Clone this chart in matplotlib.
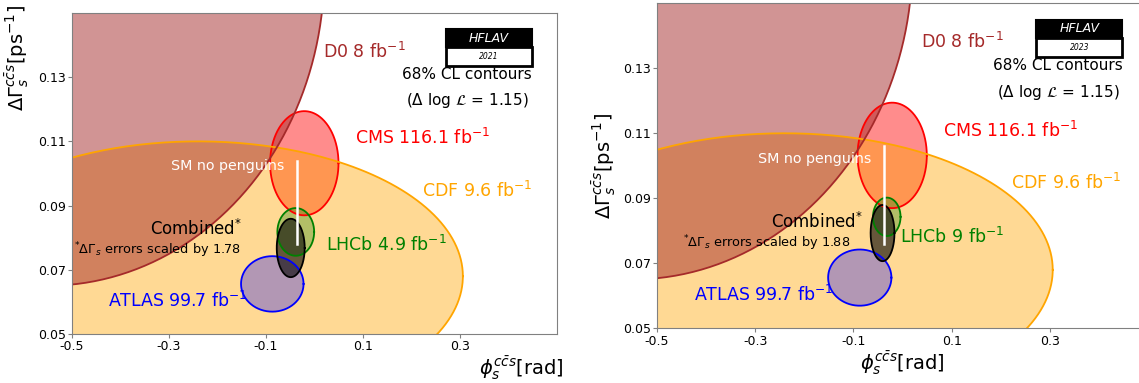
import numpy as np
import matplotlib
matplotlib.use("Agg")
import matplotlib.pyplot as plt
from matplotlib.colors import to_rgba
from matplotlib.patches import Rectangle

# 68% CL contours for (phi_s, Delta Gamma_s), Delta log L = 1.15
K_CL = np.sqrt(2.3)

# drawing order: CMS first so the CDF and D0 fills tint it
EXPERIMENTS = ["CMS", "CDF", "D0", "ATLAS", "LHCb", "Combined"]
COLORS = ["red", "orange", "brown", "blue", "green", "black"]
ALPHAS = [0.45, 0.42, 0.5, 0.3, 0.3, 0.6]

# 2021 averages
PHI_2021 = [-0.021, -0.24, -0.55, -0.087, -0.0386, -0.049]
PHI_ERR_2021 = [0.0465, 0.36, 0.376, 0.0425, 0.025, 0.019]
DG_2021 = [0.1032, 0.068, 0.163, 0.0656, 0.0818, 0.0768]
DG_ERR_2021 = [0.0107, 0.0277, 0.0646, 0.0057, 0.0049, 0.006]
LABELS_2021 = [r"CMS 116.1 fb$^{-1}$", r"CDF 9.6 fb$^{-1}$", r"D0 8 fb$^{-1}$",
               r"ATLAS 99.7 fb$^{-1}$", r"LHCb 4.9 fb$^{-1}$"]
LABEL_POS_2021 = [(0.083, 0.111), (0.222, 0.0947), (0.018, 0.1378),
                  (-0.425, 0.0604), (0.023, 0.0778)]

# 2023 averages
PHI_2023 = [-0.021, -0.24, -0.55, -0.087, -0.032, -0.0406]
PHI_ERR_2023 = [0.0465, 0.36, 0.376, 0.0425, 0.0185, 0.016]
DG_2023 = [0.1032, 0.068, 0.163, 0.0656, 0.0843, 0.0793]
DG_ERR_2023 = [0.0107, 0.0277, 0.0646, 0.0057, 0.0039, 0.0057]
LABELS_2023 = [r"CMS 116.1 fb$^{-1}$", r"CDF 9.6 fb$^{-1}$", r"D0 8 fb$^{-1}$",
               r"ATLAS 99.7 fb$^{-1}$", r"LHCb 9 fb$^{-1}$"]
LABEL_POS_2023 = [(0.083, 0.1108), (0.222, 0.0948), (0.037, 0.1382),
                  (-0.425, 0.0602), (-0.006, 0.078)]

# Standard Model prediction without penguins
SM_PHI = -0.0368
SM_DG_2021 = (0.078, 0.104)
SM_DG_2023 = (0.076, 0.106)

SCALE_2021 = 1.78
SCALE_2023 = 1.88

XTICKS = [-0.5, -0.3, -0.1, 0.1, 0.3]
YTICKS = [0.05, 0.07, 0.09, 0.11, 0.13]


def ellipse_points(cx, cy, sx, sy, n=400):
    t = np.linspace(0, 2 * np.pi, n)
    return cx + K_CL * sx * np.cos(t), cy + K_CL * sy * np.sin(t)


def hflav_logo(ax, year, x0, x1, ytop, ymid, ybot):
    ax.add_patch(Rectangle((x0, ymid), x1 - x0, ytop - ymid, transform=ax.transAxes,
                           facecolor="black", edgecolor="black", lw=1.5, zorder=20))
    ax.add_patch(Rectangle((x0, ybot), x1 - x0, ymid - ybot, transform=ax.transAxes,
                           facecolor="white", edgecolor="black", lw=2, zorder=20))
    ax.text((x0 + x1) / 2, (ytop + ymid) / 2, "HFLAV", transform=ax.transAxes,
            color="white", style="italic", fontsize=9, ha="center", va="center", zorder=21)
    ax.text((x0 + x1) / 2, (ymid + ybot) / 2, year, transform=ax.transAxes,
            color="black", style="italic", fontsize=5.5, ha="center", va="center", zorder=21)


def draw_panel(ax, phi, phi_err, dg, dg_err, labels, label_pos, sm_dg, scale,
               year, combined_pos, note_pos):
    # filled regions first, contour lines on top of all fills
    for i, name in enumerate(EXPERIMENTS):
        x, y = ellipse_points(phi[i], dg[i], phi_err[i], dg_err[i])
        ax.fill(x, y, facecolor=to_rgba(COLORS[i], ALPHAS[i]),
                edgecolor="none", zorder=2 + i)
    for i, name in enumerate(EXPERIMENTS):
        x, y = ellipse_points(phi[i], dg[i], phi_err[i], dg_err[i])
        ax.plot(x, y, color=COLORS[i], lw=1.3, zorder=10 + i)

    for i, lab in enumerate(labels):
        ax.text(label_pos[i][0], label_pos[i][1], lab, color=COLORS[i],
                fontsize=12.5, ha="left", va="center", zorder=22)

    ax.plot([SM_PHI, SM_PHI], sm_dg, color="white", lw=1.8, zorder=18)
    ax.text(-0.179, 0.1022, "SM no penguins", color="white", fontsize=10.3,
            ha="center", va="center", zorder=22)
    ax.text(combined_pos[0], combined_pos[1], r"Combined$^{*}$", color="black",
            fontsize=12, ha="left", va="center", zorder=22)
    ax.text(note_pos[0], note_pos[1],
            r"$^{*}\Delta\Gamma_s$ errors scaled by %.2f" % scale, color="black",
            fontsize=9.3, ha="left", va="center", zorder=22)

    hflav_logo(ax, year, 0.772, 0.948, 0.95, 0.893, 0.836)
    ax.text(0.948, 0.809, "68% CL contours", transform=ax.transAxes,
            fontsize=11, ha="right", va="center", zorder=22)
    ax.text(0.943, 0.727, r"($\Delta$ log $\mathcal{L}$ = 1.15)", transform=ax.transAxes,
            fontsize=11, ha="right", va="center", zorder=22)

    ax.set_xlim(-0.5, 0.5)
    ax.set_ylim(0.05, 0.15)
    ax.set_xticks(XTICKS)
    ax.set_xticklabels(["%.1f" % v for v in XTICKS])
    ax.set_yticks(YTICKS)
    ax.set_yticklabels(["%.2f" % v for v in YTICKS])
    ax.tick_params(labelsize=9, length=3, color="0.5", pad=1.5)
    for sp in ax.spines.values():
        sp.set_color("0.5")
        sp.set_zorder(30)


fig = plt.figure(figsize=(11.39, 3.83), dpi=100)
ax1 = fig.add_axes([0.0632, 0.128, 0.4258, 0.838])
ax2 = fig.add_axes([0.5768, 0.1428, 0.4311, 0.8486])

draw_panel(ax1, PHI_2021, PHI_ERR_2021, DG_2021, DG_ERR_2021, LABELS_2021,
           LABEL_POS_2021, SM_DG_2021, SCALE_2021, "2021",
           (-0.339, 0.0827), (-0.496, 0.0762))
draw_panel(ax2, PHI_2023, PHI_ERR_2023, DG_2023, DG_ERR_2023, LABELS_2023,
           LABEL_POS_2023, SM_DG_2023, SCALE_2023, "2023",
           (-0.268, 0.0828), (-0.447, 0.0763))

xlabel = r"$\phi_s^{c\bar{c}s}$[rad]"
ylabel = r"$\Delta\Gamma_s^{c\bar{c}s}$[ps$^{-1}$]"

ax1.set_xlabel(xlabel, fontsize=14, ha="right", va="center")
ax1.xaxis.set_label_coords(1.014, -0.106)
ax1.set_ylabel(ylabel, fontsize=14, ha="right", va="center")
ax1.yaxis.set_label_coords(-0.113, 1.025)

ax2.set_xlabel(xlabel, fontsize=14, va="center")
ax2.xaxis.set_label_coords(0.5, -0.107)
ax2.set_ylabel(ylabel, fontsize=14, va="center")
ax2.yaxis.set_label_coords(-0.108, 0.5)

fig.savefig("out.png", dpi=100)
